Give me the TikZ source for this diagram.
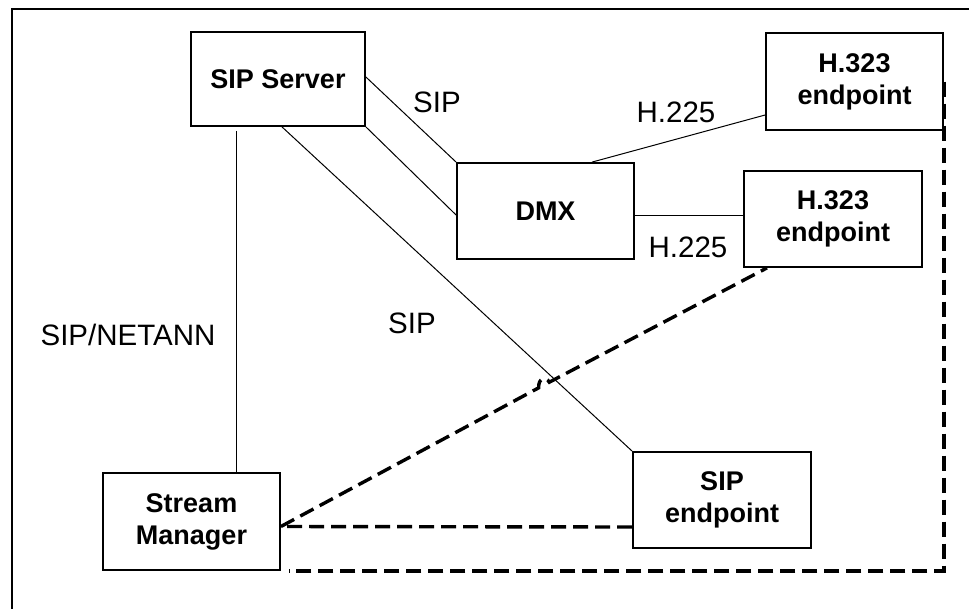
\documentclass[tikz,border=0pt]{standalone}
\usepackage{fontspec}
\setmainfont{Liberation Sans}
\begin{document}
\begin{tikzpicture}[x=1pt,y=-1pt,
  box/.style={draw, line width=1.8pt, inner sep=0pt, align=center,
    font=\fontsize{27}{32}\selectfont\bfseries},
  lbl/.style={font=\fontsize{29.5}{34}\selectfont, inner sep=0pt, anchor=base},
  thinline/.style={line width=1pt},
  dsh/.style={line width=3.4pt, dash pattern=on 15pt off 7pt}]
\useasboundingbox (0,0) rectangle (969,608);
\draw[line width=2.6pt] (12,612) -- (12,9) -- (973,9);

\node[box, minimum width=174pt, minimum height=94pt] (srv) at (278,79) {SIP Server};
\node[box, minimum width=177pt, minimum height=96pt] (dmx) at (545.5,211) {DMX};
\node[box, minimum width=177pt, minimum height=97pt] (h1) at (854.5,81.5) {H.323\\endpoint};
\node[box, minimum width=178pt, minimum height=96pt] (h2) at (833,219) {H.323\\endpoint};
\node[box, minimum width=178pt, minimum height=96pt] (sipe) at (722,500) {SIP\\endpoint};
\node[box, minimum width=177pt, minimum height=97pt] (sm) at (191.5,521.5) {Stream\\Manager};

% solid connectors
\draw[thinline] ([yshift=2pt]srv.east) -- (dmx.north west);
\draw[thinline] (srv.south east) -- ([yshift=-4pt]dmx.west);
\draw[thinline] ([xshift=4pt]srv.south) -- (sipe.north west);
\draw[thinline] ([xshift=-42pt,yshift=-4pt]srv.south) -- ([xshift=44.5pt]sm.north);
\draw[thinline] ([xshift=46.5pt]dmx.north) -- ([yshift=-33.5pt]h1.west);
\draw[thinline] ([yshift=-4pt]dmx.east) coordinate (d2) -- (d2 -| h2.west);

% dashed connectors
\coordinate (smr) at ([yshift=-5pt]sm.east);
\coordinate (hopa) at (538.7,387.8);
\coordinate (hopb) at (549.3,382.2);
\draw[dsh] ([yshift=-27pt]sipe.west) -- (smr);
\draw[dsh] (smr) -- (hopa) .. controls (538,378) and (546,376) .. (hopb) -- ([xshift=-66pt]h2.south);
\draw[dsh] (h1.east) -- (h1.east |- sm.south) -- ([xshift=8pt]sm.south east);

% labels
\node[lbl] (l1) at (437,112) {SIP};
\node[lbl] (l2) at (676,122) {H.225};
\node[lbl] (l3) at (688,257) {H.225};
\node[lbl] (l4) at (412,333) {SIP};
\node[lbl] (l5) at (128,345) {SIP/NETANN};
\end{tikzpicture}
\end{document}
